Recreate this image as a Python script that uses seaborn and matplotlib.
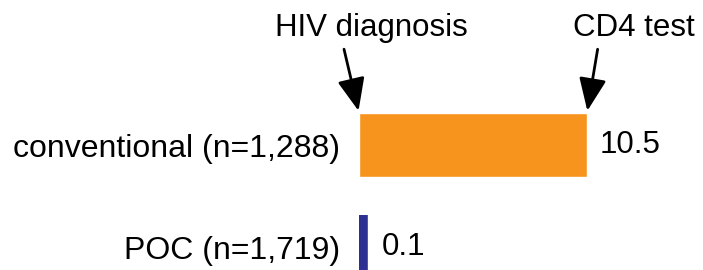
import matplotlib
matplotlib.use("Agg")
import matplotlib.pyplot as plt
import seaborn as sns
from matplotlib.patches import Rectangle

# Data
groups = ['conventional (n=1,288)', 'POC (n=1,719)']
days = [10.5, 0.1]
colors = ['#F7941D', '#2E3192']
value_labels = ['10.5', '0.1']

sns.set_style('white')
plt.rcParams['font.family'] = ['Liberation Sans', 'DejaVu Sans']
plt.rcParams['text.color'] = 'black'
fs = 22.5

fig = plt.figure(figsize=(7.03, 2.70), dpi=100)
ax = fig.add_axes([359 / 703, 0, 344 / 703, 1])

sns.barplot(x=days, y=groups, hue=groups, palette=colors, orient='h',
            width=0.63, legend=False, saturation=1, ax=ax)

ax.set_xlim(0, 344 / (228 / 10.5))
ax.set_ylim(1 + 23 / 102, -145 / 102)
sns.despine(ax=ax, left=True, bottom=True)
ax.set_xticks([])
ax.set_xlabel('')
ax.set_ylabel('')
ax.tick_params(axis='y', length=0, pad=13.7, labelsize=23, labelcolor='black')

# keep the tiny POC bar visible, clipped to its own band
poc = ax.containers[1].patches[0]
poc.set_edgecolor(colors[1])
poc.set_linewidth(9.8)
poc.set_clip_path(Rectangle((0, poc.get_y()), ax.get_xlim()[1], poc.get_height(),
                            transform=ax.transData))

ax.bar_label(ax.containers[0], labels=[value_labels[0]], padding=9.4,
             fontsize=fs, color='black')
ax.bar_label(ax.containers[1], labels=[value_labels[1]], padding=15,
             fontsize=fs, color='black')

# arrows marking the interval
conv = ax.containers[0].patches[0]
arrow = dict(arrowstyle='-|>,head_length=1.0,head_width=0.42', mutation_scale=20,
             lw=2, color='black', shrinkA=2, shrinkB=1.5)
ax.annotate('HIV diagnosis', xy=(conv.get_x(), conv.get_y()), xytext=(9, 55.2),
            textcoords='offset points', ha='center', va='baseline', fontsize=fs,
            color='black', annotation_clip=False,
            arrowprops=dict(arrow, relpos=(0.35, 0)))
ax.annotate('CD4 test', xy=(conv.get_x() + conv.get_width(), conv.get_y()),
            xytext=(33.8, 55.2), textcoords='offset points', ha='center',
            va='baseline', fontsize=fs, color='black', annotation_clip=False,
            arrowprops=dict(arrow, relpos=(0.21, 0)))

fig.savefig('out.png', dpi=100)
